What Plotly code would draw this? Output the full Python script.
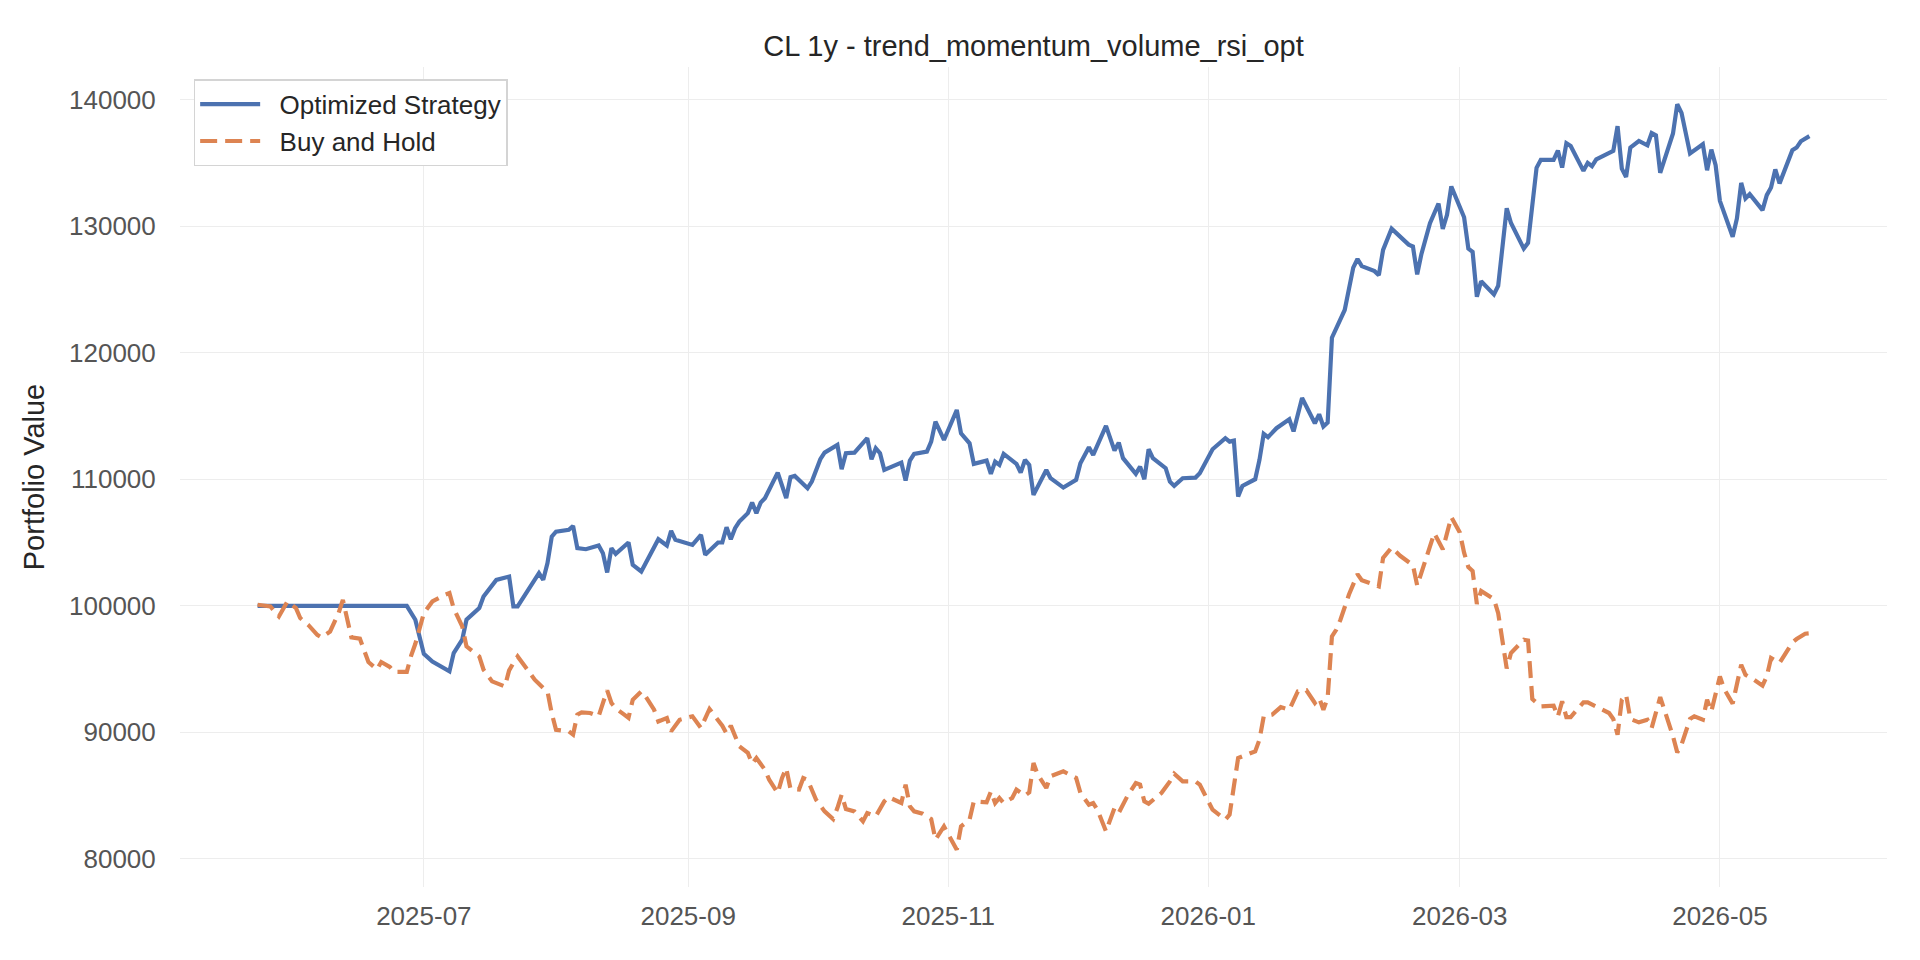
import pandas as pd
import plotly.graph_objects as go

# day offsets from 2025-07-01 and portfolio values
strategy_days = [-39, -4, -2, 0, 2, 4, 6, 7, 9, 10, 13, 14, 17, 20, 21, 22, 27, 28, 29, 30,
                 31, 34, 35, 36, 38, 41, 42, 43, 44, 45, 48, 49, 51, 55, 57, 58, 59, 63, 65, 66,
                 69, 70, 71, 72, 73, 74, 76, 77, 78, 79, 80, 83, 85, 86, 87, 90, 91, 93, 94, 97,
                 98, 99, 101, 104, 105, 106, 107, 108, 112, 113, 114, 115, 118, 119, 120, 122, 125, 126, 128, 129,
                 132, 133, 134, 135, 136, 139, 140, 141, 142, 143, 146, 147, 150, 153, 154, 156, 157, 160, 162, 163,
                 164, 167, 168, 169, 170, 171, 174, 175, 176, 178, 181, 182, 185, 188, 189, 190, 191, 192, 195, 196,
                 197, 198, 200, 203, 204, 206, 209, 210, 211, 212, 213, 216, 218, 219, 220, 223, 224, 225, 227, 231,
                 232, 233, 234, 236, 238, 239, 240, 241, 244, 245, 246, 247, 248, 251, 252, 254, 255, 258, 259, 261,
                 262, 265, 266, 267, 268, 269, 272, 273, 274, 275, 279, 280, 281, 282, 283, 285, 287, 288, 289, 290,
                 293, 294, 295, 297, 300, 301, 302, 303, 304, 307, 308, 309, 310, 311, 314, 315, 316, 317, 318, 321,
                 322, 323, 325]
strategy_values = [100000, 100000, 98900, 96200, 95600, 95210, 94820, 96270, 97320, 98900, 99820, 100730, 102050, 102310, 99950, 99950, 102580, 102050, 103370, 105470,
                   105860, 106000, 106310, 104550, 104470, 104760, 104160, 102630, 104550, 104100, 105000, 103240, 102710, 105260, 104760, 105920, 105210, 104810, 105600, 104030,
                   105000, 105000, 106210, 105260, 106130, 106650, 107320, 108150, 107320, 108150, 108500, 110520, 108500, 110160, 110260, 109290, 109810, 111580, 112100, 112710,
                   110790, 112050, 112100, 113240, 111580, 112450, 112050, 110730, 111310, 109890, 111470, 112000, 112180, 112970, 114550, 113100, 115470, 113630, 112840, 111210,
                   111470, 110420, 111390, 111130, 112000, 111210, 110520, 111520, 111130, 108760, 110730, 110080, 109340, 109950, 111260, 112530, 111920, 114210, 112260, 112890,
                   111660, 110420, 110990, 110000, 112370, 111660, 110870, 109810, 109470, 110080, 110130, 110470, 112370, 113240, 112970, 113050, 108630, 109470, 110000, 111520,
                   113580, 113320, 114030, 114740, 113780, 116420, 114420, 115130, 114170, 114480, 121180, 123370, 126720, 127400, 126830, 126440, 126120, 128120, 129790, 128530,
                   128380, 126180, 127800, 130230, 131780, 129780, 130890, 133130, 130690, 128220, 127960, 124420, 125640, 124600, 125280, 131400, 130240, 128220, 128670, 134600,
                   135230, 135230, 135960, 134620, 136540, 136330, 134360, 134990, 134730, 135260, 135940, 137890, 134540, 133880, 136200, 136720, 136380, 137350, 137170, 134200,
                   137310, 139620, 138940, 135730, 136460, 134410, 136040, 134810, 131990, 129150, 130600, 133410, 132180, 132520, 131260, 132440, 133050, 134470, 133370, 135990,
                   136200, 136700, 137100]

hold_days = [-39, -36, -34, -32, -30, -29, -27, -25, -24, -22, -20, -19, -17, -15, -13, -11, -10, -8, -7, -4,
             -3, -2, 0, 2, 5, 6, 7, 9, 10, 13, 14, 16, 19, 20, 21, 22, 24, 26, 28, 29,
             30, 31, 34, 35, 36, 37, 39, 41, 42, 43, 44, 45, 47, 48, 49, 51, 52, 54, 55, 57,
             58, 60, 63, 65, 67, 69, 70, 71, 72, 74, 76, 77, 78, 80, 81, 83, 84, 85, 86, 88,
             89, 90, 92, 94, 96, 97, 98, 99, 101, 103, 104, 106, 108, 109, 112, 113, 114, 115, 117, 119,
             120, 122, 123, 124, 125, 126, 128, 129, 132, 133, 134, 135, 136, 138, 139, 141, 142, 143, 144, 146,
             147, 150, 153, 154, 156, 157, 158, 160, 162, 163, 165, 167, 168, 169, 170, 173, 175, 176, 178, 181,
             182, 183, 185, 188, 189, 190, 191, 195, 196, 197, 199, 201, 203, 205, 207, 209, 210, 211, 212, 213,
             214, 215, 216, 217, 219, 220, 224, 225, 227, 229, 232, 233, 234, 237, 239, 241, 243, 244, 245, 246,
             247, 248, 251, 252, 254, 255, 258, 259, 260, 262, 265, 266, 267, 268, 269, 272, 273, 275, 278, 279,
             280, 281, 282, 283, 285, 287, 288, 290, 291, 293, 294, 295, 297, 298, 300, 301, 302, 304, 305, 307,
             309, 310, 312, 314, 315, 316, 318, 321, 322, 324, 325]
hold_values = [100080, 99950, 99160, 100340, 99820, 99030, 98450, 97700, 97500, 97970, 99420, 100470, 97500, 97400, 95560, 94980, 95560, 95170, 94780, 94780,
               96040, 97000, 99420, 100340, 100870, 101000, 99800, 98370, 96790, 96000, 94950, 94030, 93630, 94900, 95480, 96000, 95080, 94160, 93500, 93240,
               91500, 90210, 90080, 89820, 91400, 91580, 91530, 91270, 92320, 93320, 92320, 91900, 91400, 91140, 92580, 93240, 92840, 91790, 90870, 91140,
               90080, 91000, 91270, 90350, 91850, 91000, 90530, 89900, 90530, 88900, 88380, 87530, 87970, 87050, 86260, 85200, 86390, 87180, 85530, 85480,
               86390, 86260, 84680, 83760, 83150, 84020, 85080, 83940, 83760, 82970, 83630, 83370, 84550, 84890, 84420, 85870, 84160, 83760, 83580, 83150,
               81530, 82570, 81920, 81260, 80730, 82570, 83100, 84550, 84470, 85330, 84420, 84820, 84420, 84820, 85480, 85000, 85260, 87580, 86660, 85610,
               86530, 86920, 86400, 85220, 84290, 84420, 83890, 82180, 84030, 83640, 84950, 86000, 85870, 84550, 84370, 85210, 86130, 86740, 86130, 86130,
               85870, 85210, 83900, 83110, 83500, 85740, 87980, 88500, 89420, 91260, 91400, 92000, 91790, 93240, 93320, 92320, 92720, 91790, 92720, 97580,
               98100, 98900, 99950, 100890, 102500, 102020, 101540, 103790, 104600, 103950, 103210, 101600, 102620, 105730, 104460, 107010, 105790, 104200, 103050, 102750,
               100150, 101170, 100520, 99420, 95050, 96270, 97320, 97260, 92640, 92050, 92110, 91260, 92450, 91210, 91210, 92370, 92370, 92050, 91530, 91060,
               89820, 92580, 92980, 91060, 90790, 91000, 90350, 92790, 91790, 89690, 88420, 89030, 91060, 91270, 91000, 92580, 91660, 94420, 93430, 92270,
               95340, 94550, 94160, 93690, 94420, 95870, 95480, 97100, 97370, 97790, 97820]

y_ticks = [80000, 90000, 100000, 110000, 120000, 130000, 140000]

base = pd.Timestamp("2025-07-01")
strategy_dates = base + pd.to_timedelta(strategy_days, unit="D")
hold_dates = base + pd.to_timedelta(hold_days, unit="D")

# matplotlib style 5% margins around the data
all_days = strategy_days + hold_days
day_pad = 0.05 * (max(all_days) - min(all_days))
x_lo = base + pd.to_timedelta(min(all_days) - day_pad, unit="D")
x_hi = base + pd.to_timedelta(max(all_days) + day_pad, unit="D")
all_vals = strategy_values + hold_values
val_pad = 0.05 * (max(all_vals) - min(all_vals))

font = "Liberation Sans, Arial, sans-serif"
gap = "\u00a0\u00a0"  # a little room between legend line and label, like matplotlib

fig = go.Figure()
fig.add_trace(go.Scatter(x=strategy_dates, y=strategy_values, mode="lines", name=gap + "Optimized Strategy",
                         line=dict(color="#4c72b0", width=4.2)))
fig.add_trace(go.Scatter(x=hold_dates, y=hold_values, mode="lines", name=gap + "Buy and Hold",
                         line=dict(color="#dd8452", width=4.2, dash="17px,8px")))

# page body has an 8px margin, so the figure is 8px smaller than the window
fig.update_layout(
    width=1912, height=952,
    paper_bgcolor="white", plot_bgcolor="white",
    margin=dict(l=172, r=33, t=59, b=73),
    font=dict(family=font, color="#262626"),
    title=dict(text="CL 1y - trend_momentum_volume_rsi_opt", x=0.5, xref="paper",
               y=1 - 38 / 952, yref="container", yanchor="middle",
               font=dict(size=29, color="#262626")),
    legend=dict(x=0.008, y=0.985, xanchor="left", yanchor="top",
                bgcolor="white", bordercolor="#d4d4d4", borderwidth=1.5,
                font=dict(size=26, color="#262626"), itemwidth=60),
    showlegend=True,
)
fig.update_xaxes(range=[x_lo, x_hi], dtick="M2", tick0="2025-07-01", tickformat="%Y-%m",
                 showgrid=True, gridcolor="#ededed", gridwidth=1, zeroline=False, showline=False,
                 ticks="outside", ticklen=6, tickcolor="rgba(0,0,0,0)",
                 tickfont=dict(size=26, color="#555555"))
fig.update_yaxes(range=[min(all_vals) - val_pad, max(all_vals) + val_pad],
                 tickvals=y_ticks, tickformat="d",
                 showgrid=True, gridcolor="#ededed", gridwidth=1, zeroline=False, showline=False,
                 ticks="outside", ticklen=18, tickcolor="rgba(0,0,0,0)",
                 tickfont=dict(size=26, color="#555555"),
                 title=dict(text="Portfolio Value", font=dict(size=29, color="#262626"), standoff=15))

fig.write_html("out.html")
